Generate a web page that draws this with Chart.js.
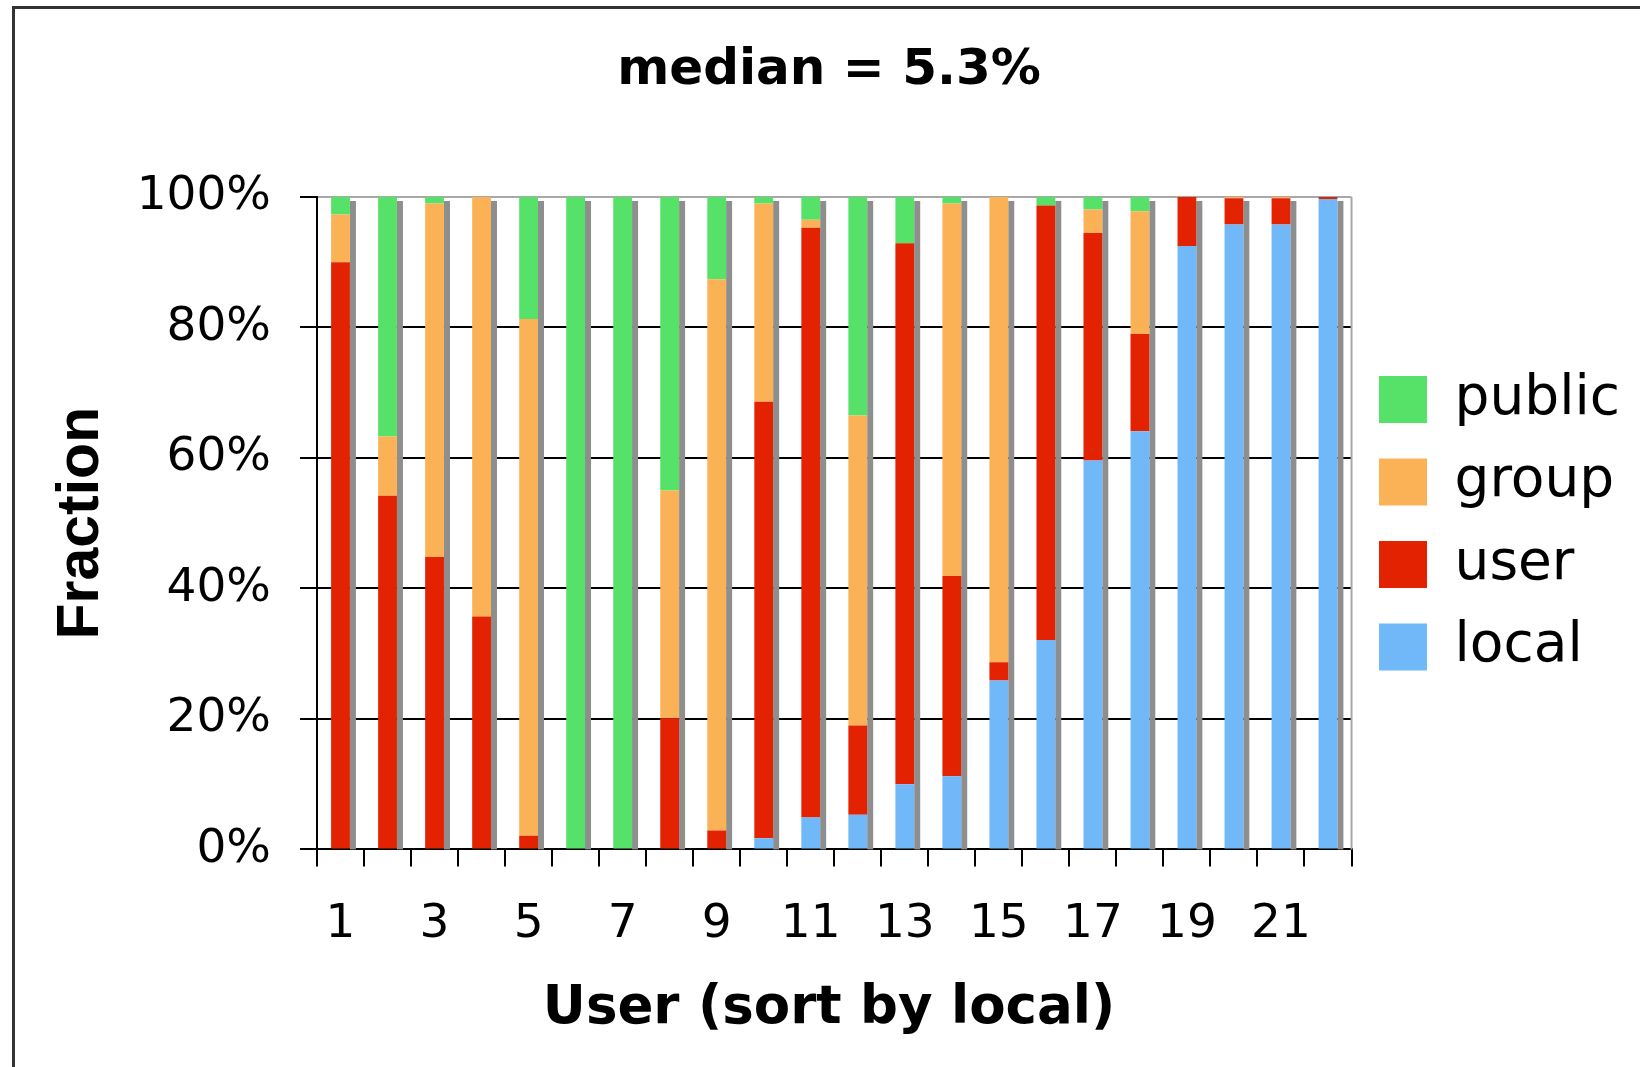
<!DOCTYPE html>
<html>
<head>
<meta charset="utf-8">
<title>median = 5.3%</title>
<script src="https://cdn.jsdelivr.net/npm/chart.js@4.4.1/dist/chart.umd.min.js"></script>
<style>
  html, body { margin: 0; padding: 0; background: #fff; overflow: hidden; }
  #frame { position: absolute; left: 12px; top: 6px; width: 1700px; height: 1100px; border: 3px solid #333; }
  #chart { position: absolute; left: 0; top: 0; }
</style>
</head>
<body>
<div id="frame"></div>
<canvas id="chart" width="1640" height="1067"></canvas>
<script>
// Data (percent of each user's files)
const users = ['1','2','3','4','5','6','7','8','9','10','11','12','13','14','15','16','17','18','19','20','21','22'];
const local  = [0, 0, 0, 0, 0, 0, 0, 0, 0, 1.7, 4.9, 5.3, 10.0, 11.2, 25.9, 32.1, 59.6, 64.1, 92.5, 95.8, 95.8, 99.7];
const user   = [90.0, 54.2, 44.8, 35.7, 2.1, 0, 0, 20.1, 2.9, 66.9, 90.4, 13.7, 82.9, 30.7, 2.8, 66.6, 34.9, 14.9, 7.5, 4.0, 4.0, 0.3];
const group  = [7.3, 9.1, 54.2, 64.3, 79.2, 0, 0, 34.9, 84.5, 30.4, 1.2, 47.5, 0, 57.1, 71.3, 0, 3.6, 18.8, 0, 0.2, 0.2, 0];
const pub    = [2.7, 36.7, 1.0, 0, 18.7, 100, 100, 45.0, 12.6, 1.0, 3.5, 33.5, 7.1, 1.0, 0, 1.3, 1.9, 2.2, 0, 0, 0, 0];
const yTicks = [0, 20, 40, 60, 80, 100];

const COLORS = { local: '#70B8F8', user: '#E22200', group: '#FBB256', public: '#56E168' };
const SHADOW = '#8E8E8E';

Chart.defaults.font.family = "'DejaVu Sans', Verdana, sans-serif";
Chart.defaults.color = '#000';

// Grey "3D" shadow behind each column plus the grey right border of the plot
const barShadow = {
  id: 'barShadow',
  beforeDatasetsDraw(chart) {
    const { ctx, chartArea, scales: { y } } = chart;
    const meta = chart.getDatasetMeta(0);
    const base = y.getPixelForValue(0);
    ctx.save();
    ctx.fillStyle = SHADOW;
    meta.data.forEach((bar, i) => {
      const total = chart.data.datasets.reduce((s, d) => s + d.data[i], 0);
      const top = y.getPixelForValue(total);
      ctx.fillRect(bar.x + bar.width / 2, top + 4, 6, base - top - 4);
    });
    ctx.strokeStyle = '#a8a8a8';
    ctx.lineWidth = 2;
    ctx.beginPath();
    ctx.moveTo(chartArea.right, chartArea.top);
    ctx.lineTo(chartArea.right, chartArea.bottom);
    ctx.stroke();
    ctx.restore();
  }
};

function makeSet(label, data, color) {
  return { label: label, data: data, backgroundColor: color, borderWidth: 0 };
}

new Chart(document.getElementById('chart'), {
  type: 'bar',
  data: {
    labels: users,
    datasets: [
      makeSet('local', local, COLORS.local),
      makeSet('user', user, COLORS.user),
      makeSet('group', group, COLORS.group),
      makeSet('public', pub, COLORS.public)
    ]
  },
  options: {
    responsive: false,
    animation: false,
    barPercentage: 0.4,
    categoryPercentage: 1.0,
    layout: { padding: { left: 28, right: 10, top: 0, bottom: 0 } },
    plugins: {
      title: {
        display: true,
        text: 'median = 5.3%',
        font: { size: 50, weight: 'bold' },
        padding: { top: 41, bottom: 96 }
      },
      subtitle: {
        display: true,
        position: 'bottom',
        text: 'User (sort by local)',
        font: { size: 53, weight: 'bold' },
        padding: { top: 0, bottom: 26 }
      },
      legend: {
        position: 'right',
        align: 'center',
        fullSize: false,
        labels: {
          boxWidth: 48,
          boxHeight: 47,
          padding: 27.5,
          font: { size: 55 },
          color: '#000',
          sort: (a, b) => b.datasetIndex - a.datasetIndex
        }
      },
      tooltip: { enabled: false }
    },
    scales: {
      x: {
        stacked: true,
        z: 1,
        grid: {
          offset: true,
          drawOnChartArea: false,
          tickLength: 17,
          color: '#000',
          lineWidth: 2
        },
        border: { color: '#000', width: 2 },
        ticks: {
          autoSkip: false,
          maxRotation: 0,
          minRotation: 0,
          padding: 30,
          font: { size: 47 },
          callback: (value, index) => index % 2 === 0 ? users[index] : ''
        },
        afterFit: (scale) => { scale.height = 128; }
      },
      y: {
        stacked: true,
        min: 0,
        max: 100,
        afterBuildTicks: (scale) => { scale.ticks = yTicks.map(v => ({ value: v })); },
        grid: {
          color: (c) => c.tick && c.tick.value === 100 ? '#a8a8a8' : '#000',
          tickColor: '#000',
          tickLength: 17,
          lineWidth: 2
        },
        border: { color: '#000', width: 2 },
        ticks: {
          padding: 29,
          font: { size: 47 },
          callback: (v) => v + '%'
        },
        title: {
          display: true,
          text: 'Fraction',
          font: { family: "'Liberation Sans', Arial, sans-serif", size: 59, weight: 'bold' },
          padding: { top: 18, bottom: 0 }
        },
        afterFit: (scale) => { scale.width = 289; }
      }
    }
  },
  plugins: [barShadow]
});
</script>
</body>
</html>
